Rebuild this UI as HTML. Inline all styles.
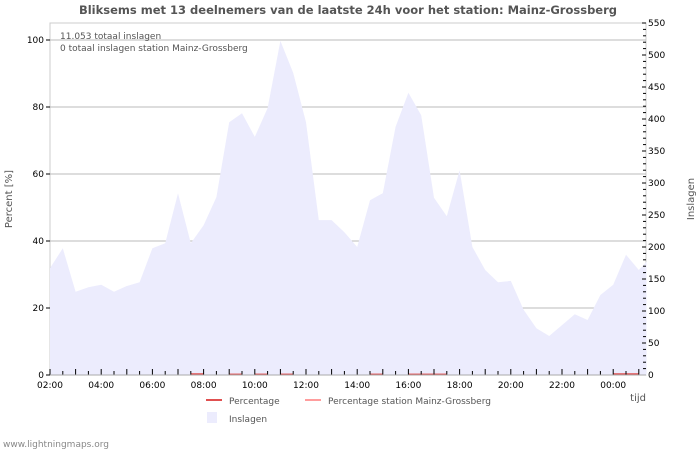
<!DOCTYPE html>
<html><head><meta charset="utf-8"><style>
html,body{margin:0;padding:0;background:#fff;width:700px;height:450px;overflow:hidden}
svg{display:block;font-family:"DejaVu Sans","Liberation Sans",sans-serif}
</style></head><body>
<svg id="c" width="700" height="450">
<text x="348" y="14" text-anchor="middle" font-size="11.5" font-weight="bold" fill="#555">Bliksems met 13 deelnemers van de laatste 24h voor het station: Mainz-Grossberg</text>
<rect x="50" y="23" width="596" height="352" fill="none" stroke="#ccc"/>
<g id="grid"></g>
<g id="area"></g>
<g id="lines"></g>
<g id="axes"></g>
<text x="60" y="39" font-size="9" fill="#555">11.053 totaal inslagen</text>
<text x="60" y="51" font-size="9" fill="#555">0 totaal inslagen station Mainz-Grossberg</text>
<text transform="translate(12,199) rotate(-90)" text-anchor="middle" font-size="10" fill="#555">Percent   [%]</text>
<text transform="translate(694,199) rotate(-90)" text-anchor="middle" font-size="10" fill="#555">Inslagen</text>
<text x="646" y="401" text-anchor="end" font-size="10" fill="#555">tijd</text>
<g>
<g><line x1="206" y1="400" x2="222" y2="400" stroke="#e05050" stroke-width="2"/><text x="229" y="404" font-size="9" fill="#555">Percentage</text></g>
<g><line x1="305" y1="400" x2="321" y2="400" stroke="#ff9d9d" stroke-width="2"/><text x="328" y="404" font-size="9" fill="#555">Percentage station Mainz-Grossberg</text></g>
<g><rect x="207" y="412" width="10" height="11" fill="#ececfd"/><text x="229" y="422" font-size="9" fill="#555">Inslagen</text></g>
</g>
<text x="3" y="447" font-size="9" fill="#888">www.lightningmaps.org</text>
</svg>
<script>
const hours = [0,0.5,1,1.5,2,2.5,3,3.5,4,4.5,5,5.5,6,6.5,7,7.5,8,8.5,9,9.5,10,10.5,11,11.5,12,12.5,13,13.5,14,14.5,15,15.5,16,16.5,17,17.5,18,18.5,19,19.5,20,20.5,21,21.5,22,22.5,23,23.3];
const strikes = [167,198,130,137,141,130,139,145,198,206,284,206,234,278,395,409,372,417,522,472,395,242,242,223,200,273,284,388,441,406,277,248,320,200,164,145,147,102,73,61,78,95,86,125,141,188,164,177];
const percentage = [0,0,0,0,0,0,0,0,0,0,0,0.3,0,0,0.2,0,0.2,0,0.2,0,0,0,0,0,0,0.2,0,0,0.2,0.2,0.2,0,0,0,0,0,0,0,0,0,0,0,0,0,0.3,0.3,0,0];
const xTickLabels = ["02:00","04:00","06:00","08:00","10:00","12:00","14:00","16:00","18:00","20:00","22:00","00:00"];
const leftTicks = [0,20,40,60,80,100];
const rightTicks = [0,50,100,150,200,250,300,350,400,450,500,550];

const NS="http://www.w3.org/2000/svg";
const X0=50,X1=646,Y0=375,YT=23;
const xs=h=>X0+h*25.6;
const yl=p=>Y0-p*3.35;
const yr=v=>Y0-v*(352/550);
function mk(tag,attrs,parent){const e=document.createElementNS(NS,tag);for(const k in attrs)e.setAttribute(k,attrs[k]);parent.appendChild(e);return e;}
const grid=document.getElementById('grid'),area=document.getElementById('area'),lines=document.getElementById('lines'),axes=document.getElementById('axes');

let d="M"+xs(hours[0])+","+Y0;
hours.forEach((h,i)=>{d+=" L"+xs(h).toFixed(1)+","+yr(strikes[i]).toFixed(1);});
d+=" L"+xs(hours[hours.length-1])+","+Y0+" Z";
const ar=mk('path',{d:d,fill:"#ececfd"},area);



leftTicks.forEach(v=>{
  if(v>0){const g=mk('line',{x1:X0,x2:X1,y1:yl(v),y2:yl(v),stroke:"#bbb","stroke-width":1},grid);
  
  }
  mk('line',{x1:X0-4,x2:X0,y1:yl(v),y2:yl(v),stroke:"#000"},axes);
  const t=mk('text',{x:X0-6,y:yl(v)+3,"text-anchor":"end","font-size":9,fill:"#000"},axes);
  t.textContent=v;
  
  
});
for(let v=0;v<=550;v+=10){
  const big=v%50===0;
  mk('line',{x1:X1-(big?4:3),x2:X1,y1:yr(v),y2:yr(v),stroke:"#000"},axes);
}
rightTicks.forEach(v=>{
  const t=mk('text',{x:X1+2,y:yr(v)+3,"font-size":9,fill:"#000"},axes);
  t.textContent=v;
  
  
});
for(let h=0;h<=23;h+=0.5){
  const len=(h%1===0)?6:4;
  mk('line',{x1:xs(h),x2:xs(h),y1:Y0,y2:Y0-len,stroke:"#000"},axes);
}
mk('line',{x1:X0,x2:X1,y1:Y0,y2:Y0,stroke:"#aaa"},axes);
xTickLabels.forEach((l,i)=>{
  const t=mk('text',{x:xs(i*2),y:Y0+13,"text-anchor":"middle","font-size":9,fill:"#000"},axes);
  t.textContent=l;
  
  
});
percentage.forEach((p,i)=>{
  if(p>0&&i<hours.length-1){
    const s=mk('line',{x1:xs(hours[i]),x2:xs(hours[i+1]),y1:yl(p),y2:yl(p),stroke:"#e05050","stroke-width":1.5},lines);
    
    
  }
});
</script>
</body></html>
